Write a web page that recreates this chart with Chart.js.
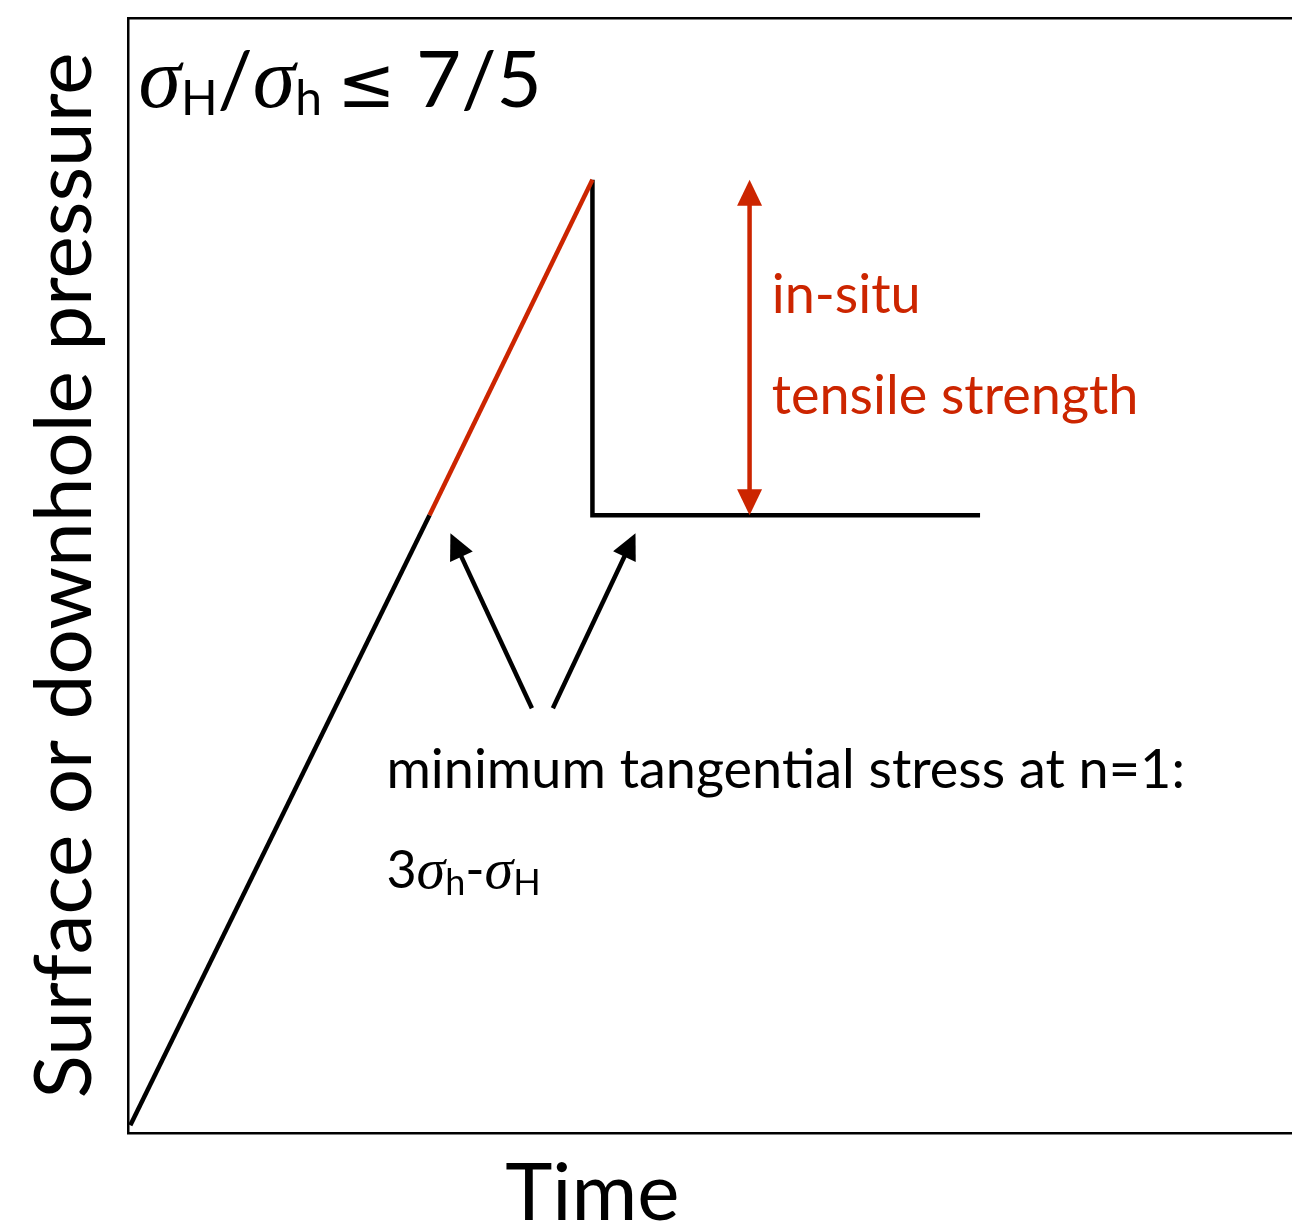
<!DOCTYPE html>
<html>
<head>
<meta charset="utf-8">
<title>Breakdown pressure sketch</title>
<script src="https://cdn.jsdelivr.net/npm/chart.js@4.4.1/dist/chart.umd.min.js"></script>
<style>
  html, body { margin: 0; padding: 0; background: #fff; }
</style>
</head>
<body>
<canvas id="chart" width="1292" height="1230"></canvas>
<script>
// ==========================
// Data (time / pressure, arbitrary units 0..10)
// ==========================
const rampTime = [0.02, 2.59];
const rampPressure = [0.07, 5.54];

const breakdownTime = [2.59, 3.99];
const breakdownPressure = [5.54, 8.55];

const dropTime = [3.99, 3.99, 7.32];
const dropPressure = [8.55, 5.54, 5.54];

// double-headed red arrow (in-situ tensile strength)
const strengthArrowTime = [5.34, 5.34];
const strengthArrowPressure = [8.55, 5.54];

// black arrows pointing at the two 3σh-σH levels
const stressArrowTailTime = [3.47, 3.65];
const stressArrowTailPressure = [3.81, 3.81];
const stressArrowTipTime = [2.77, 4.36];
const stressArrowTipPressure = [5.38, 5.38];

const RED = "#cc2500";
const BLACK = "#000000";

const toPoints = (xs, ys) => xs.map((x, i) => ({ x: x, y: ys[i] }));

// ==========================
// Text annotations (anchored in data units)
// ==========================
const sans = size => size + "px Lato";
const serifIt = size => "italic " + size + "px 'Liberation Serif'";

const annotations = [
    { t: 0.09, p: 9.20, color: BLACK, runs: [
        { text: "σ", font: serifIt(86) },
        { text: "H", font: sans(48), dy: 8 },
        { text: "/", font: sans(78) },
        { text: "σ", font: serifIt(86) },
        { text: "h", font: sans(48), dy: 8 },
        { text: " ", font: sans(60) },
        { text: "≤", font: "70px 'DejaVu Sans'" },
        { text: " 7/5", font: sans(78) }
    ]},
    { t: 5.53, p: 7.35, color: RED, runs: [{ text: "in-situ", font: sans(54) }] },
    { t: 5.53, p: 6.45, color: RED, runs: [{ text: "tensile strength", font: sans(54) }] },
    { t: 2.22, p: 3.09, color: BLACK, runs: [{ text: "minimum tangential stress at n=1:", font: sans(54) }] },
    { t: 2.22, p: 2.20, color: BLACK, runs: [
        { text: "3", font: sans(52) },
        { text: "σ", font: serifIt(58) },
        { text: "h", font: sans(36), dy: 7 },
        { text: "-", font: sans(52) },
        { text: "σ", font: serifIt(58) },
        { text: "H", font: sans(36), dy: 7 }
    ]},
    // x-axis title, centred under the pressure peak as in the sketch
    { t: 3.99, p: -0.78, color: BLACK, align: "center", runs: [{ text: "Time", font: sans(80) }] }
];

// ==========================
// Arrow helper
// ==========================
function drawArrow(ctx, x1, y1, x2, y2, color, twoHeads) {
    const headLen = 26, headHalf = 12.5, w = 4.5;
    const ang = Math.atan2(y2 - y1, x2 - x1);
    const cos = Math.cos(ang), sin = Math.sin(ang);
    const sx = twoHeads ? x1 + cos * (headLen - 2) : x1;
    const sy = twoHeads ? y1 + sin * (headLen - 2) : y1;
    const ex = x2 - cos * (headLen - 2), ey = y2 - sin * (headLen - 2);

    ctx.save();
    ctx.strokeStyle = color;
    ctx.fillStyle = color;
    ctx.lineWidth = w;
    ctx.lineCap = "butt";
    ctx.beginPath();
    ctx.moveTo(sx, sy);
    ctx.lineTo(ex, ey);
    ctx.stroke();

    const head = (tx, ty, c, s) => {
        const bx = tx - c * headLen, by = ty - s * headLen;
        ctx.beginPath();
        ctx.moveTo(tx, ty);
        ctx.lineTo(bx - s * headHalf, by + c * headHalf);
        ctx.lineTo(bx + s * headHalf, by - c * headHalf);
        ctx.closePath();
        ctx.fill();
    };
    head(x2, y2, cos, sin);
    if (twoHeads) head(x1, y1, -cos, -sin);
    ctx.restore();
}

const sketchPlugin = {
    id: "sketch",
    afterDatasetsDraw(chart) {
        const ctx = chart.ctx;
        const xs = chart.scales.x, ys = chart.scales.y;

        // red double arrow
        drawArrow(ctx,
            xs.getPixelForValue(strengthArrowTime[0]), ys.getPixelForValue(strengthArrowPressure[0]),
            xs.getPixelForValue(strengthArrowTime[1]), ys.getPixelForValue(strengthArrowPressure[1]),
            RED, true);

        // black arrows
        stressArrowTailTime.forEach((t, i) => {
            drawArrow(ctx,
                xs.getPixelForValue(t), ys.getPixelForValue(stressArrowTailPressure[i]),
                xs.getPixelForValue(stressArrowTipTime[i]), ys.getPixelForValue(stressArrowTipPressure[i]),
                BLACK, false);
        });

        // text
        ctx.save();
        ctx.textBaseline = "alphabetic";
        ctx.textAlign = "left";
        annotations.forEach(a => {
            let x = xs.getPixelForValue(a.t);
            const y = ys.getPixelForValue(a.p);
            if (a.align === "center") {
                let total = 0;
                a.runs.forEach(r => { ctx.font = r.font; total += ctx.measureText(r.text).width; });
                x -= total / 2;
            }
            ctx.fillStyle = a.color;
            a.runs.forEach(r => {
                ctx.font = r.font;
                ctx.fillText(r.text, x, y + (r.dy || 0));
                x += ctx.measureText(r.text).width;
            });
        });
        ctx.restore();
    }
};

// ==========================
// Chart
// ==========================
const lineStyle = (color) => ({
    borderColor: color,
    backgroundColor: color,
    borderWidth: 4.5,
    pointRadius: 0,
    showLine: true,
    fill: false,
    tension: 0
});

const hiddenAxis = {
    type: "linear",
    min: 0,
    max: 10,
    grid: { display: false },
    ticks: { display: false },
    border: { display: true, color: BLACK, width: 2.5 }
};

new Chart(document.getElementById("chart"), {
    type: "scatter",
    data: {
        datasets: [
            { label: "ramp", data: toPoints(rampTime, rampPressure), ...lineStyle(BLACK) },
            { label: "breakdown", data: toPoints(breakdownTime, breakdownPressure), ...lineStyle(RED) },
            { label: "drop", data: toPoints(dropTime, dropPressure), ...lineStyle(BLACK) }
        ]
    },
    options: {
        responsive: false,
        animation: false,
        devicePixelRatio: 1,
        layout: { padding: 0 },
        plugins: {
            legend: { display: false },
            tooltip: { enabled: false }
        },
        scales: {
            x: {
                ...hiddenAxis,
                position: "bottom",
                afterFit: s => { s.height = 97; }
            },
            xTop: {
                ...hiddenAxis,
                axis: "x",
                position: "top",
                afterFit: s => { s.height = 18; }
            },
            y: {
                ...hiddenAxis,
                position: "left",
                title: {
                    display: true,
                    text: "Surface or downhole pressure",
                    color: BLACK,
                    font: { family: "Lato", size: 80, lineHeight: 1 },
                    padding: { top: 25, bottom: 0 }
                },
                afterFit: s => { s.width = 128; }
            }
        }
    },
    plugins: [sketchPlugin]
});
</script>
</body>
</html>
